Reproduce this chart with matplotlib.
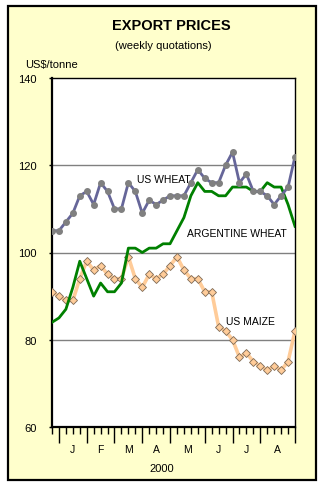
import numpy as np
import matplotlib
matplotlib.use("Agg")
import matplotlib.pyplot as plt
from matplotlib.patches import Rectangle
import matplotlib.transforms as mtransforms

plt.rcParams['font.family'] = ['Liberation Sans', 'DejaVu Sans']

# weekly quotations, US$/tonne
us_wheat = [105, 105, 107, 109, 113, 114, 111, 116, 114, 110, 110, 116, 114, 109, 112, 111, 112, 113,
            113, 113, 116, 119, 117, 116, 116, 120, 123, 116, 118, 114, 114, 113, 111, 113, 115, 122]
arg_wheat = [84, 85, 87, 92, 98, 94, 90, 93, 91, 91, 93, 101, 101, 100, 101, 101, 102, 102,
             105, 108, 113, 116, 114, 114, 113, 113, 115, 115, 115, 114, 114, 116, 115, 115, 111, 106]
us_maize = [91, 90, 89, 89, 94, 98, 96, 97, 95, 94, 94, 99, 94, 92, 95, 94, 95, 97,
            99, 96, 94, 94, 91, 91, 83, 82, 80, 76, 77, 75, 74, 73, 74, 73, 75, 82]

# week index where each month starts (long ticks) and month labels
month_bounds = [1, 5, 9, 13, 17, 22, 26, 30, 35]
month_labels = ["J", "F", "M", "A", "M", "J", "J", "A"]
y_ticks = [60, 80, 100, 120, 140]

weeks = np.arange(len(us_wheat))

fig = plt.figure(figsize=(3.25, 4.89), dpi=100)
fig.patch.set_facecolor("white")
# framed cream panel behind everything
fig.patches.append(Rectangle((8 / 325, 1 - 481 / 489), 308 / 325, 474 / 489,
                             transform=fig.transFigure, facecolor="#FFFFCC",
                             edgecolor="black", linewidth=1.6, zorder=-5))

ax = fig.add_axes([52 / 325, 61 / 489, 243 / 325, 349 / 489])
ax.set_facecolor("white")

for y in [80, 100, 120]:
    ax.axhline(y, color="#808080", linewidth=1, zorder=1)

ax.plot(weeks, us_maize, color="#FFCC99", linewidth=2.6, marker="D", markersize=4,
        markerfacecolor="#FFCC99", markeredgecolor="#7F6A55", markeredgewidth=0.6, zorder=3)
ax.plot(weeks, arg_wheat, color="#008000", linewidth=2, zorder=4)
ax.plot(weeks, us_wheat, color="#666699", linewidth=2, marker="o", markersize=4,
        markerfacecolor="#808080", markeredgecolor="#808080", zorder=5)

ax.set_xlim(0, len(us_wheat) - 1)
ax.set_ylim(60, 140)
ax.set_yticks(y_ticks)
ax.tick_params(axis="y", direction="out", length=2, width=1, pad=9, labelsize=8)

ax.set_xticks(month_bounds)
ax.set_xticklabels([])
ax.set_xticks([w for w in weeks if w not in month_bounds], minor=True)
ax.tick_params(axis="x", which="major", direction="out", length=11.5, width=1)
ax.tick_params(axis="x", which="minor", direction="out", length=5, width=1)

trans = mtransforms.blended_transform_factory(ax.transData, ax.transAxes)
for i, lab in enumerate(month_labels):
    xc = (month_bounds[i] + month_bounds[i + 1]) / 2
    ax.text(xc, -0.062, lab, transform=trans, ha="center", va="center", fontsize=7.5)

for side in ["left", "bottom"]:
    ax.spines[side].set_linewidth(1.6)
for side in ["top", "right"]:
    ax.spines[side].set_linewidth(1)

ax.text(12.3, 116.8, "US WHEAT", fontsize=7.5, ha="left", va="center", zorder=6)
ax.text(19.5, 104.5, "ARGENTINE WHEAT", fontsize=7.5, ha="left", va="center", zorder=6)
ax.text(25.1, 84.4, "US MAIZE", fontsize=7.5, ha="left", va="center", zorder=6)

fig.text(171 / 325, 1 - 26 / 489, "EXPORT PRICES", fontsize=10.5, fontweight="bold",
         ha="center", va="center")
fig.text(163 / 325, 1 - 46 / 489, "(weekly quotations)", fontsize=8, ha="center", va="center")
fig.text(25 / 325, 1 - 65 / 489, "US$/tonne", fontsize=8, ha="left", va="center")
fig.text(162 / 325, 1 - 469 / 489, "2000", fontsize=8, ha="center", va="center")

fig.savefig("out.png", dpi=100)
